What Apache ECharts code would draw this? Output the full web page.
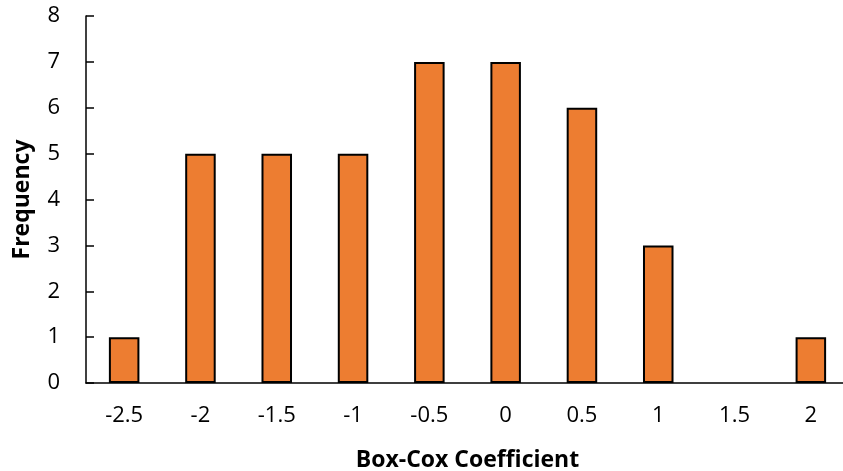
<!DOCTYPE html>
<html><head><meta charset="utf-8">
<script src="https://cdn.jsdelivr.net/npm/echarts@6/dist/echarts.min.js"></script>
<style>html,body{margin:0;padding:0;background:#fff}#c{width:843px;height:471px}</style>
</head><body><div id="c"></div>
<script>
const categories = ['-2.5','-2','-1.5','-1','-0.5','0','0.5','1','1.5','2'];
const frequency = [1,5,5,5,7,7,6,3,0,1];
const xTitle = 'Box-Cox Coefficient';
const yTitle = 'Frequency';
const font = '"Open Sans", Lato, sans-serif';
const chart = echarts.init(document.getElementById('c'));
chart.setOption({
  animation:false,
  grid:{left:86, top:16, width:763, height:367, containLabel:false, outerBoundsMode:'none'},
  xAxis:{type:'category', data:categories,
    axisLine:{lineStyle:{color:'#000', width:1.5}},
    axisTick:{inside:true, length:8, alignWithLabel:false, lineStyle:{color:'#000', width:1.5}},
    axisLabel:{color:'#000', fontSize:22, fontFamily:font, margin:22},
    name:xTitle, nameLocation:'middle', nameGap:66,
    nameTextStyle:{color:'#000', fontSize:23, fontWeight:'bold', fontFamily:font}},
  yAxis:{type:'value', min:0, max:8, interval:1,
    axisLine:{show:true, lineStyle:{color:'#000', width:1.5}},
    axisTick:{show:true, inside:true, length:8, lineStyle:{color:'#000', width:1.5}},
    splitLine:{show:false},
    axisLabel:{color:'#000', fontSize:22, fontFamily:font, margin:26},
    name:yTitle, nameLocation:'middle', nameGap:52, nameRotate:90,
    nameTextStyle:{color:'#000', fontSize:23, fontWeight:'bold', fontFamily:font}},
  series:[{type:'bar', barWidth:'40%',
    data:frequency.map(v => v === 0 ? {value:v, itemStyle:{borderWidth:0}} : v),
    itemStyle:{color:'#ED7D31', borderColor:'#000', borderWidth:2}}]
});
</script></body></html>
